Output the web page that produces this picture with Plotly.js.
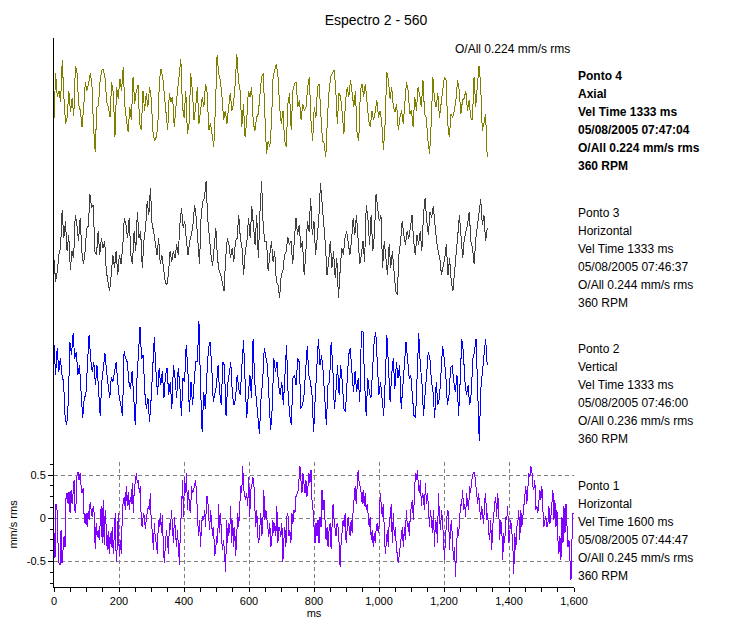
<!DOCTYPE html>
<html><head><meta charset="utf-8">
<script src="https://cdn.plot.ly/plotly-3.0.1.min.js"></script>
<style>html,body{margin:0;padding:0;background:#fff}#chart{width:752px;height:626px}
#chart .scatterlayer path.js-line{shape-rendering:crispEdges}</style>
</head><body><div id="chart"></div>
<script>
// ---------------- data ----------------
const chartTitle = 'Espectro 2 - 560';
const overallNote = 'O/All 0.224 mm/s rms';
const xTitle = 'ms';
const yTitle = 'mm/s rms';
const xTickVals = [0, 200, 400, 600, 800, 1000, 1200, 1400, 1600];
const yTickVals = [-0.5, 0, 0.5];
const yTickText = ['-0.5', '0', '0.5'];

// record lengths (ms)
const duration1 = 1600;
const duration2 = 1333;
const duration3 = 1333;
const duration4 = 1333;

// waveform amplitudes (mm/s), equally spaced samples over each record
const ponto1 = [-0.17,-0.46,0.17,0.10,-0.29,-0.52,-0.54,-0.14,-0.52,-0.29,-0.21,-0.33,0.25,0.29,0.17,0.31,0.06,0.33,0.17,0.29,0.44,0.06,0.17,0.52,0.54,0.44,0.52,
0.37,0.29,0.35,0.02,-0.06,0.06,-0.10,0.08,-0.02,0.19,0.10,0.02,0.14,0.06,-0.35,-0.06,-0.21,-0.14,-0.25,-0.02,0.14,-0.29,0.21,-0.31,0.10,-0.10,-0.37,-0.15,-0.41,-0.17,-0.33,-0.10,-0.41,-0.21,0.06,-0.50,-0.33,0.06,-0.44,-0.25,-0.41,0.02,0.21,0.25,0.10,0.37,0.14,0.31,0.10,0.25,0.17,0.41,0.06,0.35,0.41,0.52,0.41,0.44,0.29,0.37,-0.06,-0.10,0.06,0.02,-0.12,0.00,0.06,0.14,0.10,0.29,-0.10,-0.14,-0.37,-0.06,-0.25,-0.29,-0.41,-0.02,-0.10,0.06,-0.17,0.04,-0.37,-0.52,-0.29,-0.14,-0.25,-0.41,-0.06,-0.14,0.10,-0.17,-0.29,0.02,-0.21,-0.33,-0.14,-0.44,-0.54,-0.06,0.06,0.44,0.02,0.48,0.29,0.52,0.10,0.33,0.10,0.06,0.37,0.29,0.33,0.37,0.44,0.29,0.02,-0.21,-0.02,-0.33,-0.06,0.02,-0.02,0.10,-0.10,0.25,0.25,0.02,-0.14,0.10,-0.10,-0.21,-0.10,-0.44,-0.37,-0.21,-0.29,0.17,-0.17,0.06,-0.25,-0.37,-0.25,-0.48,-0.62,-0.02,-0.29,-0.06,-0.17,0.14,-0.29,-0.02,-0.33,-0.10,-0.44,-0.21,0.06,-0.10,0.25,0.37,0.29,0.60,0.33,0.25,0.21,0.29,0.14,0.48,0.02,0.33,0.37,0.48,0.44,0.14,-0.10,0.10,-0.21,-0.29,-0.06,0.06,-0.21,-0.06,0.33,-0.02,0.10,-0.02,-0.17,-0.21,-0.06,-0.33,-0.25,-0.02,-0.17,-0.06,-0.21,0.14,-0.29,-0.10,-0.14,-0.21,-0.06,-0.50,-0.25,-0.10,-0.33,0.02,0.06,-0.21,-0.14,-0.29,0.06,-0.06,0.10,0.06,0.25,0.29,0.31,0.44,0.60,0.44,0.29,0.52,0.37,
0.29,0.44,0.25,0.37,0.52,0.41,0.56,0.21,0.10,-0.10,-0.29,-0.06,-0.21,-0.02,-0.29,0.02,-0.10,0.33,0.10,0.21,-0.02,-0.25,-0.10,-0.33,-0.14,-0.06,-0.35,-0.02,0.17,-0.02,-0.10,-0.21,-0.06,-0.10,-0.29,-0.56,-0.29,-0.10,-0.02,-0.10,0.06,-0.29,-0.10,0.02,-0.10,-0.21,-0.02,-0.17,0.10,0.29,0.37,0.17,0.44,0.56,0.41,0.37,0.29,0.17,0.33,0.14,0.29,0.10,0.17,0.06,-0.10,0.02,-0.25,-0.14,-0.33,-0.17,-0.29,-0.10,-0.06,-0.17,-0.06,0.29,0.14,0.02,0.17,-0.10,-0.41,-0.29,-0.14,-0.33,-0.02,0.02,0.17,-0.29,0.06,-0.21,-0.10,-0.33,-0.48,-0.52,-0.41,-0.33,-0.21,-0.10,-0.33,-0.10,-0.25,0.10,-0.10,-0.06,-0.21,0.06,0.14,0.21,-0.02,0.33,0.52,0.44,0.56,0.37,0.29,0.44,0.14,0.29,0.25,0.10,0.41,0.17,0.29,0.14,-0.10,0.10,-0.02,-0.17,0.10,-0.33,-0.02,-0.06,-0.29,0.29,0.02,-0.14,0.10,-0.02,-0.25,-0.48,-0.21,-0.02,0.10,0.06,-0.37,-0.10,-0.02,-0.29,-0.48,-0.33,-0.68,-0.33,-0.10,-0.21,-0.02,0.17,0.14,0.33,0.10,0.17,0.02,0.29,0.17,0.10,0.37,0.29,0.44,0.52,0.54,0.52,0.37,0.25,0.17,0.29,0.10,-0.02,0.14,0.06,-0.06,0.21,0.29,-0.02,0.06,-0.17,-0.25,-0.02,-0.37,-0.10,0.10,0.17,0.25,0.02,0.29,0.10,-0.25,-0.02,-0.10,-0.48,-0.17,-0.29,0.02,-0.02,0.14,-0.29,-0.17,-0.02,-0.14,-0.29,-0.64,-0.17,-0.37,-0.10,-0.06,0.10,-0.25,0.10,-0.10,0.02,0.14,0.25,0.37,0.17,0.41,0.52,0.48,0.60,0.56,0.37,0.33,0.44,0.10,0.14,0.06,0.17,0.33,0.21,0.37,0.10,-0.10,-0.02,0.02,-0.10,-0.06,0.14,-0.06,0.02,0.21,0.33,-0.02,0.21,-0.10,0.10,-0.25,-0.41,-0.21,-0.48,0.02,-0.29,0.14,-0.17,0.17,-0.06,-0.33,-0.25,-0.60,-0.71,-0.25,0.06,0.06];

const ponto2 = [0.41,0.06,0.37,0.10,0.25,0.06,-0.02,-0.44,-0.52,-0.25,0.44,0.29,0.54,0.25,0.33,0.06,0.17,-0.21,-0.44,-0.21,-0.17,0.17,0.52,0.25,0.10,0.21,-0.06,0.17,-0.10,-0.41,-0.02,0.14,0.31,0.10,-0.06,-0.21,0.04,-0.02,0.10,0.21,-0.02,-0.21,-0.29,-0.41,0.33,0.25,0.21,-0.02,-0.10,0.10,-0.17,-0.52,-0.02,0.37,0.62,0.25,0.29,-0.14,-0.33,-0.21,-0.48,-0.21,0.14,0.50,0.10,-0.17,0.14,-0.06,0.10,-0.21,0.06,0.14,-0.17,-0.02,-0.33,0.17,0.02,-0.21,0.14,-0.06,-0.41,0.02,-0.02,0.41,0.14,-0.37,-0.02,-0.29,-0.02,0.21,0.21,0.68,-0.06,-0.60,-0.14,-0.33,0.06,0.37,0.44,0.17,-0.25,-0.14,-0.06,0.17,-0.14,-0.29,0.21,0.17,-0.41,-0.06,0.06,0.21,-0.17,-0.29,-0.21,0.06,-0.10,-0.17,0.17,0.46,-0.02,-0.44,-0.17,0.06,-0.21,0.48,-0.02,-0.21,-0.48,-0.62,-0.21,-0.02,0.37,0.25,0.17,-0.21,-0.58,-0.33,0.25,0.10,0.21,-0.06,
-0.17,-0.02,-0.29,0.06,0.41,-0.17,-0.41,-0.52,0.02,0.06,-0.06,0.25,0.21,-0.33,-0.29,-0.17,0.10,0.39,0.06,-0.02,-0.17,-0.60,-0.21,0.17,0.48,0.17,0.29,0.10,-0.17,-0.52,-0.06,-0.02,0.44,0.17,-0.33,-0.14,0.17,-0.17,0.17,-0.02,-0.33,-0.37,-0.02,0.29,0.37,0.06,-0.14,0.10,-0.14,0.02,-0.25,0.56,0.56,-0.02,-0.41,0.02,-0.14,-0.21,0.17,0.44,0.56,0.25,-0.17,-0.02,-0.25,-0.41,0.02,0.52,0.17,-0.25,0.06,0.25,-0.10,0.21,0.02,0.17,-0.33,-0.10,0.21,0.44,0.25,0.02,0.06,-0.17,-0.41,-0.44,0.06,0.54,0.17,-0.02,-0.41,-0.14,0.10,0.33,0.25,-0.02,-0.14,-0.44,-0.02,-0.29,-0.21,0.06,0.39,0.25,0.06,-0.29,-0.17,0.14,0.17,-0.02,-0.14,0.06,-0.41,-0.02,0.48,0.33,-0.02,-0.17,-0.06,-0.29,-0.14,0.25,0.33,0.48,-0.17,-0.71,-0.10,0.06,0.29,0.48,0.17];

const ponto3 = [-0.20,-0.45,-0.33,-0.14,-0.06,0.38,0.05,0.25,-0.10,0.09,-0.31,-0.10,-0.18,0.32,0.21,0.02,0.29,-0.10,-0.25,-0.10,
0.17,0.19,0.56,0.40,0.44,-0.10,-0.14,0.13,-0.14,0.05,-0.06,0.02,-0.33,-0.45,-0.56,-0.37,-0.14,-0.29,-0.10,-0.37,-0.14,-0.25,-0.06,0.29,0.21,0.05,0.29,-0.14,-0.25,0.13,-0.10,0.36,0.05,0.13,-0.29,0.02,0.17,0.48,0.32,0.63,0.21,0.13,0.02,-0.14,0.05,-0.25,-0.14,-0.29,-0.45,-0.49,-0.37,-0.10,-0.22,-0.10,-0.18,-0.02,-0.14,0.21,0.40,0.17,0.25,0.02,-0.14,0.02,0.09,0.21,0.44,0.29,0.02,-0.25,0.32,0.48,0.52,0.71,0.29,0.02,-0.14,-0.27,-0.06,0.17,-0.18,-0.33,-0.37,-0.49,-0.56,-0.18,0.05,-0.02,-0.18,-0.06,-0.22,0.02,0.05,0.32,0.05,-0.06,-0.37,-0.10,0.02,0.29,0.05,0.42,0.21,-0.02,0.32,-0.18,0.36,0.71,0.17,0.02,0.02,-0.33,-0.14,
0.02,-0.22,-0.10,-0.45,-0.49,-0.64,-0.37,-0.33,-0.14,-0.10,0.07,-0.02,0.02,-0.25,0.02,0.29,0.09,0.21,-0.06,0.02,-0.37,-0.14,
0.25,0.13,0.52,0.09,0.25,-0.14,0.05,0.29,0.69,0.44,0.29,-0.02,-0.37,-0.22,0.02,-0.29,-0.10,-0.41,-0.18,-0.64,-0.33,-0.06,-0.14,0.05,0.13,-0.02,-0.14,0.02,0.29,0.09,0.32,0.05,-0.25,-0.14,0.02,-0.22,0.44,0.29,-0.02,0.32,-0.10,0.09,0.56,0.40,0.25,0.32,-0.29,0.02,-0.14,-0.37,-0.02,-0.29,-0.10,-0.29,-0.56,-0.60,-0.14,0.02,0.25,0.09,-0.02,0.13,0.05,0.17,0.32,0.02,-0.14,0.09,-0.02,0.13,-0.10,0.32,0.52,0.25,0.09,0.36,0.29,0.42,0.17,0.02,-0.10,-0.18,-0.37,-0.29,-0.18,-0.02,-0.37,-0.18,-0.45,-0.56,-0.37,-0.14,0.09,0.32,0.02,-0.18,0.05,0.13,0.21,0.36,0.02,-0.06,-0.25,0.05,0.21,0.32,0.50,0.21,0.32,0.02,0.17];

const ponto4 = [-0.15,0.37,0.10,0.17,0.04,0.52,0.10,-0.21,-0.14,0.17,-0.08,0.08,-0.12,0.46,
0.37,0.00,-0.06,-0.25,-0.02,0.27,0.17,0.25,0.37,0.25,-0.25,-0.54,-0.02,0.00,0.29,0.41,0.42,0.31,0.04,-0.02,-0.14,0.27,0.14,-0.37,0.21,0.08,0.31,0.17,0.44,0.00,-0.17,-0.31,-0.02,-0.17,0.33,0.02,0.17,0.23,-0.21,-0.29,0.17,-0.06,0.14,-0.02,0.21,0.08,-0.29,-0.41,-0.37,-0.25,0.29,0.42,0.33,0.14,-0.06,-0.29,0.14,0.04,0.10,-0.25,-0.02,0.17,0.29,0.54,-0.02,-0.14,0.17,-0.33,-0.21,0.37,0.17,-0.17,-0.02,0.21,-0.21,-0.02,0.10,-0.02,0.25,0.14,-0.29,-0.21,-0.33,-0.48,-0.02,0.58,0.37,0.29,0.10,-0.17,-0.06,-0.21,-0.02,0.14,-0.06,0.02,0.25,0.60,0.29,0.17,-0.25,0.02,-0.37,-0.17,0.17,0.10,0.21,-0.21,-0.29,-0.14,-0.10,0.17,0.33,0.37,-0.21,-0.56,-0.41,-0.48,-0.21,0.33,0.41,0.48,
0.33,-0.02,-0.21,-0.06,-0.41,-0.48,0.02,0.14,-0.29,0.17,0.25,0.27,-0.02,0.06,-0.17,0.02,-0.06,-0.02,0.21,0.33,-0.17,-0.41,-0.02,-0.14,0.21,0.25,-0.10,-0.41,-0.44,-0.60,-0.14,0.17,0.33,0.37,0.41,0.21,-0.21,0.14,0.10,-0.10,-0.33,0.06,0.21,0.10,0.29,0.14,-0.02,0.17,-0.33,-0.41,0.17,0.25,0.10,0.25,-0.02,-0.17,-0.25,-0.06,-0.17,-0.08,0.06,-0.14,-0.06,-0.21,-0.52,-0.21,0.39,0.29,0.08,0.21,-0.02,-0.08,0.02,-0.29,-0.14,-0.06,-0.21,0.06,0.27,0.17,-0.10,-0.06,-0.25,0.10,-0.06,0.21,0.12,-0.02,0.29,-0.10,-0.14,-0.41,-0.56,-0.21,0.33,0.06,-0.02,0.14,-0.14,0.02,0.17,0.33,0.29,-0.21,-0.37,-0.10,-0.14,-0.06,0.06,0.29,0.17,-0.10,0.06,0.08,0.17,-0.06,0.06,-0.14,-0.17,0.33,-0.02,0.29,0.46,0.25,-0.29,-0.21,-0.10,-0.60];

const labels4 = ['Ponto 4', 'Axial', 'Vel Time 1333 ms', '05/08/2005 07:47:04', 'O/All 0.224 mm/s rms', '360 RPM'];
const labels3 = ['Ponto 3', 'Horizontal', 'Vel Time 1333 ms', '05/08/2005 07:46:37', 'O/All 0.244 mm/s rms', '360 RPM'];
const labels2 = ['Ponto 2', 'Vertical', 'Vel Time 1333 ms', '05/08/2005 07:46:00', 'O/All 0.236 mm/s rms', '360 RPM'];
const labels1 = ['Ponto 1', 'Horizontal', 'Vel Time 1600 ms', '05/08/2005 07:44:47', 'O/All 0.245 mm/s rms', '360 RPM'];

// ---------------- presentation ----------------
const W = 752, H = 626;
const M = {l: 54, r: 178, t: 38, b: 39};
const plotH = H - M.t - M.b, plotW = W - M.l - M.r;
const split = 125 / plotH;                 // bottom (gridded) panel share
const yRange1 = [-0.795, 0.652];
const yRange2 = [0.652, 0.652 + (plotH * (1 - split)) / (125 / (yRange1[1] - yRange1[0]))];
const offsets = {p2: 1.6, p3: 3.19, p4: 4.78};
const FONT = 'Arial, "Liberation Sans", sans-serif';

function times(vals, dur) { return vals.map((_, i) => i * dur / (vals.length - 1)); }
function shifted(vals, off) { return vals.map(v => v + off); }

const traces = [
  {x: times(ponto1, duration1), y: ponto1, xaxis: 'x', yaxis: 'y', color: '#8000ff'},
  {x: times(ponto2, duration2), y: shifted(ponto2, offsets.p2), xaxis: 'x2', yaxis: 'y2', color: '#0000ff'},
  {x: times(ponto3, duration3), y: shifted(ponto3, offsets.p3), xaxis: 'x2', yaxis: 'y2', color: '#404040'},
  {x: times(ponto4, duration4), y: shifted(ponto4, offsets.p4), xaxis: 'x2', yaxis: 'y2', color: '#808000'}
].map(t => ({x: t.x, y: t.y, xaxis: t.xaxis, yaxis: t.yaxis, type: 'scatter', mode: 'lines',
  line: {color: t.color, width: 1}, hoverinfo: 'skip', showlegend: false}));

function pyPaper(px) { return (H - M.b - px) / plotH; }
const annotations = [];
annotations.push({text: overallNote, xref: 'paper', yref: 'paper', x: (572 - M.l) / plotW, y: pyPaper(49),
  xanchor: 'right', yanchor: 'middle', showarrow: false, font: {family: FONT, size: 12, color: '#000'}});
const blocks = [[labels4, 75.7, true], [labels3, 212.7, false], [labels2, 349.3, false], [labels1, 486, false]];
blocks.forEach(([lines, top, bold]) => {
  lines.forEach((s, i) => {
    annotations.push({text: bold ? '<b>' + s + '</b>' : s, xref: 'paper', yref: 'paper',
      x: (576 - M.l) / plotW, y: pyPaper(top + i * 18), xanchor: 'left', yanchor: 'middle',
      showarrow: false, font: {family: FONT, size: 12, color: '#000'}});
  });
});

const layout = {
  width: W, height: H, margin: M, paper_bgcolor: '#fff', plot_bgcolor: '#fff',
  font: {family: FONT, size: 11, color: '#000'},
  title: {text: chartTitle, x: 0.5, xref: 'container', y: 1 - 20 / H, yref: 'container', yanchor: 'middle',
    font: {family: FONT, size: 14, color: '#000'}},
  showlegend: false,
  xaxis: {domain: [0, 1], range: [0, 1600], anchor: 'y', tickmode: 'array', tickvals: xTickVals,
    tickformat: ',d', ticks: 'outside', ticklen: 4, tickcolor: '#000', showline: true, linecolor: '#000', linewidth: 1,
    showgrid: true, gridcolor: '#808080', griddash: '4px,3px', gridwidth: 1, zeroline: false,
    minor: {dtick: 50, ticks: 'outside', ticklen: 4, tickcolor: '#000', showgrid: false},
    tickfont: {family: FONT, size: 11, color: '#000'},
    title: {text: xTitle, standoff: 0, font: {family: FONT, size: 11, color: '#000'}}},
  yaxis: {domain: [0, split], range: yRange1, anchor: 'x', tickmode: 'array', tickvals: yTickVals, ticktext: yTickText,
    ticks: 'outside', ticklen: 5, tickcolor: '#000', showline: true, linecolor: '#000', linewidth: 1,
    showgrid: true, gridcolor: '#808080', griddash: '4px,3px', gridwidth: 1, zeroline: false,
    minor: {dtick: 0.125, ticks: 'outside', ticklen: 3, tickcolor: '#000', showgrid: false},
    tickfont: {family: FONT, size: 11, color: '#000'},
    title: {text: yTitle, standoff: 6, font: {family: FONT, size: 11, color: '#000'}}},
  xaxis2: {domain: [0, 1], range: [0, 1600], anchor: 'y2', matches: 'x', visible: false, showgrid: false, zeroline: false},
  yaxis2: {domain: [split, 1], range: yRange2, anchor: 'x2', showline: true, linecolor: '#000', linewidth: 1,
    ticks: '', showticklabels: false, showgrid: false, zeroline: false},
  annotations: annotations
};

Plotly.newPlot('chart', traces, layout, {staticPlot: true, displayModeBar: false});
</script>
</body></html>
